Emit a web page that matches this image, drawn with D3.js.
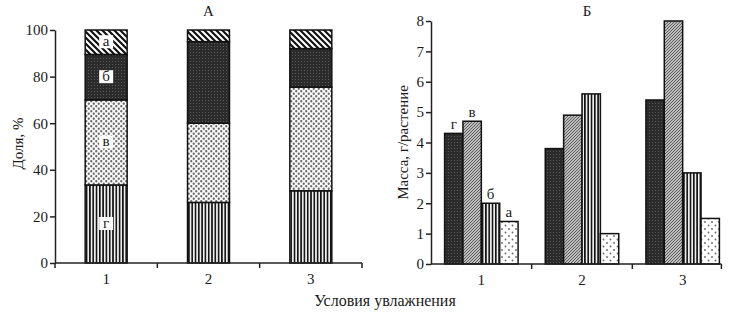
<!DOCTYPE html>
<html>
<head>
<meta charset="utf-8">
<script src="https://cdn.jsdelivr.net/npm/d3@7"></script>
<style>
  body { margin: 0; background: #fff; }
  text { font-family: "Liberation Serif", "DejaVu Serif", serif; fill: #1a1a1a; }
</style>
</head>
<body>
<div id="chart"></div>
<script>
// data
const groups = ["1", "2", "3"];
const parts = ["г", "в", "б", "а"]; // bottom to top / left to right
// panel A: share, %
const shareG = [33.5, 26, 31];
const shareV = [36.5, 34, 44.5];
const shareB = [19.5, 35, 16.5];
const shareA = [10.5, 5, 8];
// panel Б: mass, g/plant
const massG = [4.3, 3.8, 5.4];
const massV = [4.7, 4.9, 8.0];
const massB = [2.0, 5.6, 3.0];
const massA = [1.4, 1.0, 1.5];
const yTicksA = [0, 20, 40, 60, 80, 100];
const yTicksB = [0, 1, 2, 3, 4, 5, 6, 7, 8];

const W = 746, H = 315;
const svg = d3.select("#chart").append("svg")
    .attr("width", W).attr("height", H);

// patterns
const defs = svg.append("defs");
function pat(id, w, h, draw) {
    const p = defs.append("pattern").attr("id", id)
        .attr("patternUnits", "userSpaceOnUse")
        .attr("width", w).attr("height", h);
    draw(p);
}
// bold "\" hatch (а in A)
pat("hatchA", 6, 6, p => {
    p.append("rect").attr("width", 6).attr("height", 6).attr("fill", "#fff");
    p.append("path").attr("d", "M-1,-1 L7,7 M-4,2 L4,10 M2,-4 L10,4")
        .attr("stroke", "#111").attr("stroke-width", 2.2);
});
// dark crosshatch
pat("dark", 3, 3, p => {
    p.append("rect").attr("width", 3).attr("height", 3).attr("fill", "#2b2b2b");
    p.append("rect").attr("x", 1).attr("y", 1).attr("width", 1).attr("height", 1).attr("fill", "#5a5a5a");
});
// staggered dots (в in A)
pat("dots", 5, 5, p => {
    p.append("rect").attr("width", 5).attr("height", 5).attr("fill", "#fafafa");
    p.append("circle").attr("cx", 1.25).attr("cy", 1.25).attr("r", 1.15).attr("fill", "#6a6a6a");
    p.append("circle").attr("cx", 3.75).attr("cy", 3.75).attr("r", 1.15).attr("fill", "#6a6a6a");
});
// vertical lines
pat("vert", 3.3, 4, p => {
    p.append("rect").attr("width", 3.3).attr("height", 4).attr("fill", "#eeeeee");
    p.append("rect").attr("x", 0).attr("width", 1.6).attr("height", 4).attr("fill", "#111");
});
// fine "/" hatch on gray
pat("hatchB", 3, 3, p => {
    p.append("rect").attr("width", 3).attr("height", 3).attr("fill", "#bdbdbd");
    p.append("path").attr("d", "M-1,1 L1,-1 M0,3 L3,0 M2,4 L4,2")
        .attr("stroke", "#444").attr("stroke-width", 0.8);
});
// sparse dots
pat("sparse", 7, 7, p => {
    p.append("rect").attr("width", 7).attr("height", 7).attr("fill", "#fff");
    p.append("circle").attr("cx", 1.5).attr("cy", 1.5).attr("r", 0.9).attr("fill", "#666");
    p.append("circle").attr("cx", 5).attr("cy", 5).attr("r", 0.9).attr("fill", "#666");
});

const fillA = {"г": "url(#vert)", "в": "url(#dots)", "б": "url(#dark)", "а": "url(#hatchA)"};
const fillB = {"г": "url(#dark)", "в": "url(#hatchB)", "б": "url(#vert)", "а": "url(#sparse)"};

function styleAxis(g) {
    g.select(".domain").attr("stroke", "#222").attr("stroke-width", 1.5);
    g.selectAll(".tick line").attr("stroke", "#222").attr("stroke-width", 1.5);
    g.selectAll(".tick text").attr("fill", "#1a1a1a")
        .style("font-family", "'Liberation Serif', serif").style("font-size", "15px");
}

// ---------- panel A ----------
const xA = d3.scaleBand().domain(groups).range([55, 362])
    .paddingInner(0.59).paddingOuter(0.295);
const yA = d3.scaleLinear().domain([0, 100]).range([263, 30]);

const rowsA = groups.map((g, i) => ({group: g, "г": shareG[i], "в": shareV[i], "б": shareB[i], "а": shareA[i]}));
const stackA = d3.stack().keys(parts)(rowsA);

const gA = svg.append("g");
stackA.forEach(layer => {
    gA.selectAll(null).data(layer).enter().append("rect")
        .attr("x", d => xA(d.data.group))
        .attr("y", d => yA(d[1]))
        .attr("width", xA.bandwidth())
        .attr("height", d => yA(d[0]) - yA(d[1]))
        .attr("fill", fillA[layer.key])
        .attr("stroke", "#111").attr("stroke-width", 1.5);
});

// letters in first column
stackA.forEach(layer => {
    const d = layer[0];
    const cx = xA(d.data.group) + xA.bandwidth() / 2;
    const cy = yA((d[0] + d[1]) / 2);
    gA.append("rect").attr("x", cx - 7).attr("y", cy - 7)
        .attr("width", 14).attr("height", 13).attr("fill", "#fff");
    gA.append("text").attr("x", cx).attr("y", cy + 4)
        .attr("text-anchor", "middle").style("font-size", "15px").text(layer.key);
});

gA.append("g").attr("transform", "translate(55,0)")
    .call(d3.axisLeft(yA).tickValues(yTicksA).tickSize(5).tickSizeOuter(0).tickPadding(2))
    .call(styleAxis);

// x axis A
const axA = gA.append("g");
const endA = xA.range()[1];
axA.append("line").attr("x1", xA.range()[0]).attr("x2", endA)
    .attr("y1", yA(0)).attr("y2", yA(0)).attr("stroke", "#222").attr("stroke-width", 1.5);
axA.selectAll(null).data(d3.range(groups.length + 1)).enter().append("line")
    .attr("x1", i => xA.range()[0] + i * xA.step()).attr("x2", i => xA.range()[0] + i * xA.step())
    .attr("y1", yA(0)).attr("y2", yA(0) + 5).attr("stroke", "#222").attr("stroke-width", 1.5);
axA.selectAll(null).data(groups).enter().append("text")
    .attr("x", g => xA(g) + xA.bandwidth() / 2).attr("y", yA(0) + 21)
    .attr("text-anchor", "middle").style("font-size", "15px").text(g => g);

gA.append("text").attr("x", (xA.range()[0] + endA) / 2).attr("y", 16)
    .attr("text-anchor", "middle").style("font-size", "15px").text("А");
gA.append("text").attr("transform", `translate(23,${(yA(0) + yA(100)) / 2 - 3}) rotate(-90)`)
    .attr("text-anchor", "middle").style("font-size", "15px").text("Доля, %");

// ---------- panel Б ----------
const xB = d3.scaleBand().domain(groups).range([431, 733])
    .paddingInner(0.27).paddingOuter(0.135);
const x1 = d3.scaleBand().domain(parts).range([0, xB.bandwidth()]);
const yB = d3.scaleLinear().domain([0, 8]).range([264, 21]);

const rowsB = groups.map((g, i) => ({group: g, "г": massG[i], "в": massV[i], "б": massB[i], "а": massA[i]}));
const gB = svg.append("g");
rowsB.forEach(row => {
    gB.selectAll(null).data(parts).enter().append("rect")
        .attr("x", k => xB(row.group) + x1(k))
        .attr("y", k => yB(row[k]))
        .attr("width", x1.bandwidth())
        .attr("height", k => yB(0) - yB(row[k]))
        .attr("fill", k => fillB[k])
        .attr("stroke", "#111").attr("stroke-width", 1.5);
});
// letters above first group
gB.selectAll(null).data(parts).enter().append("text")
    .attr("x", k => xB(rowsB[0].group) + x1(k) + x1.bandwidth() / 2)
    .attr("y", k => yB(rowsB[0][k]) - 4)
    .attr("text-anchor", "middle").style("font-size", "15px").text(k => k);

gB.append("g").attr("transform", "translate(431,0)")
    .call(d3.axisLeft(yB).tickValues(yTicksB).tickSize(5).tickSizeOuter(0).tickPadding(2))
    .call(styleAxis);

const axB = gB.append("g");
const endB = xB(groups[groups.length - 1]) + xB.bandwidth() + 2;
axB.append("line").attr("x1", xB.range()[0]).attr("x2", endB)
    .attr("y1", yB(0)).attr("y2", yB(0)).attr("stroke", "#222").attr("stroke-width", 1.5);
axB.selectAll(null).data([1, 2]).enter().append("line")
    .attr("x1", i => xB.range()[0] + i * xB.step()).attr("x2", i => xB.range()[0] + i * xB.step())
    .attr("y1", yB(0)).attr("y2", yB(0) + 5).attr("stroke", "#222").attr("stroke-width", 1.5);
axB.append("line").attr("x1", endB).attr("x2", endB)
    .attr("y1", yB(0)).attr("y2", yB(0) + 5).attr("stroke", "#222").attr("stroke-width", 1.5);
axB.selectAll(null).data(groups).enter().append("text")
    .attr("x", g => xB(g) + xB.bandwidth() / 2).attr("y", yB(0) + 21)
    .attr("text-anchor", "middle").style("font-size", "15px").text(g => g);

gB.append("text").attr("x", xB("2") + xB.bandwidth() / 2 + 5).attr("y", 16)
    .attr("text-anchor", "middle").style("font-size", "15px").text("Б");
gB.append("text").attr("transform", `translate(408,${(yB(0) + yB(8)) / 2}) rotate(-90)`)
    .attr("text-anchor", "middle").style("font-size", "15px").text("Масса, г/растение");

// common x label
svg.append("text").attr("x", 385).attr("y", 306)
    .attr("text-anchor", "middle").style("font-size", "16px").text("Условия увлажнения");
</script>
</body>
</html>
